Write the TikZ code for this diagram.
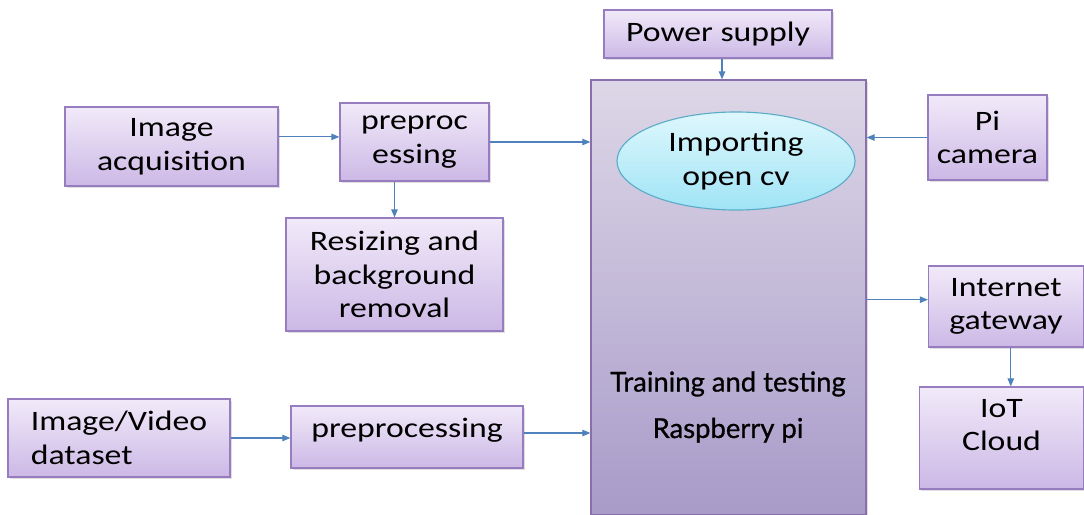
\documentclass[tikz,border=0pt]{standalone}
\usepackage{fontspec}
\setmainfont{Carlito}[FakeStretch=1.2]
\newfontfamily\rpifont{Lato}[FakeBold=0.8]
\usetikzlibrary{arrows.meta, positioning, calc, shadows, shapes.geometric}
\definecolor{boxtop}{RGB}{241,234,249}
\definecolor{boxbot}{RGB}{204,184,230}
\definecolor{boxline}{RGB}{152,124,192}
\definecolor{rpitop}{RGB}{221,215,231}
\definecolor{rpibot}{RGB}{168,155,201}
\definecolor{cvtop}{RGB}{222,247,252}
\definecolor{cvbot}{RGB}{160,228,246}
\definecolor{cvline}{RGB}{92,172,200}
\definecolor{arrowblue}{RGB}{79,129,189}

\begin{document}
\begin{tikzpicture}[x=0.025cm, y=-0.025cm, >={Triangle[length=0.2cm, width=0.16cm]},
  blk/.style={draw=boxline, line width=0.8pt, top color=boxtop, bottom color=boxbot, align=center, inner sep=0pt,
    font=\fontsize{20}{24}\selectfont, drop shadow={shadow xshift=0.05cm, shadow yshift=-0.06cm, opacity=0.25}},
  link/.style={->, draw=arrowblue, line width=0.8pt}]
  \useasboundingbox (0,0) rectangle (1084,514);
  % centre block
  \node[blk, draw=boxline!90!black, top color=rpitop, bottom color=rpibot, minimum width=6.875cm, minimum height=10.85cm] (rpi) at (728.5,297) {};
  \node[ellipse, draw=cvline, line width=0.8pt, top color=cvtop, bottom color=cvbot, minimum width=5.95cm, minimum height=2.45cm, inner sep=0pt, align=center, font=\fontsize{20}{24}\selectfont] (opencv) at (736,161) {Importing\\open cv};
  \node[font=\rpifont\fontsize{19.5}{33}\selectfont, align=center] (train) at (728,407) {Training and testing\\Raspberry pi};
  % inputs
  \node[blk, minimum width=5.7cm, minimum height=1.2cm] (pwr) at (718,34) {Power supply};
  \node[blk, minimum width=2.975cm, minimum height=2.125cm] (cam) at (987.5,137.5) {Pi\\camera};
  \node[blk, minimum width=5.325cm, minimum height=1.975cm] (acq) at (171.5,146.5) {Image\\acquisition};
  \node[blk, minimum width=3.725cm, minimum height=1.95cm] (prep1) at (414.5,142) {preproc\\essing};
  \node[blk, minimum width=5.425cm, minimum height=2.825cm] (resize) at (394.5,274.5) {Resizing and\\background\\removal};
  \node[blk, align=left, minimum width=5.55cm, minimum height=1.95cm] (data) at (119,438) {Image/Video\hspace{0.2cm}\\dataset};
  \node[blk, minimum width=5.8cm, minimum height=1.55cm, text depth=0.45cm] (prep2) at (407,437) {preprocessing};
  % outputs
  \node[blk, minimum width=3.875cm, minimum height=2.025cm] (gate) at (1006,306.5) {Internet\\gateway};
  \node[blk, minimum width=4.1cm, minimum height=2.55cm, text depth=0.65cm] (cloud) at (1001.5,438) {IoT\\Cloud};
  % connectors
  \draw[link] ([xshift=0.1cm]pwr.south) -- ([xshift=0.1cm]pwr.south |- rpi.north);
  \draw[link] (cam.west) -- (cam.west -| rpi.east);
  \draw[link] ([yshift=0.24cm]acq.east) -- ([yshift=0.24cm]acq.east -| prep1.west);
  \draw[link] (prep1.east) -- (prep1.east -| rpi.west);
  \draw[link] ([xshift=-0.5cm]prep1.south) -- ([xshift=-0.5cm]prep1.south |- resize.north);
  \draw[link] (data.east) -- (data.east -| prep2.west);
  \draw[link] ([yshift=0.1cm]prep2.east) -- ([yshift=0.1cm]prep2.east -| rpi.west);
  \draw[link] ([yshift=0.17cm]gate.west -| rpi.east) -- ([yshift=0.17cm]gate.west);
  \draw[link] ([xshift=0.12cm]gate.south) -- ([xshift=0.12cm]gate.south |- cloud.north);
\end{tikzpicture}
\end{document}
